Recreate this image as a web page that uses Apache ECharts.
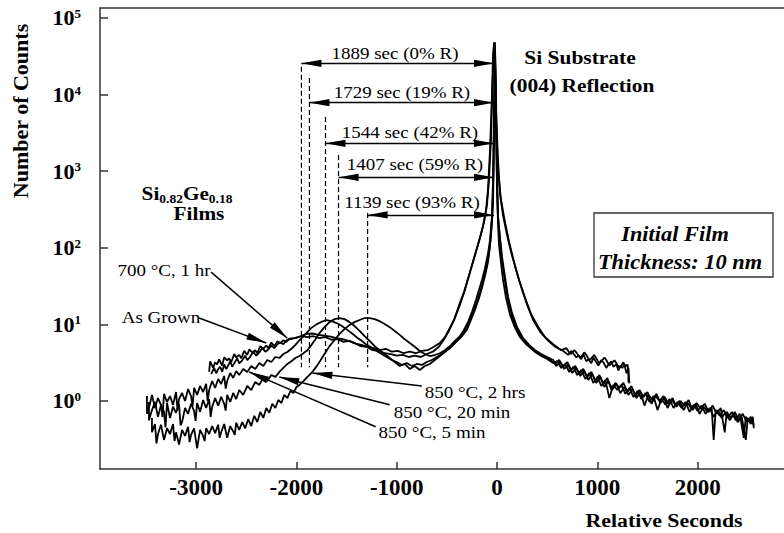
<!DOCTYPE html>
<html><head><meta charset="utf-8">
<script src="https://cdn.jsdelivr.net/npm/echarts@6/dist/echarts.min.js"></script>
<style>html,body{margin:0;padding:0;background:#fff}#c{width:784px;height:533px}</style>
</head><body><div id="c"></div>
<script>
// ---------------- data ----------------
const xTicks = [-3000, -2000, -1000, 0, 1000, 2000];
const yTicks = [1, 10, 100, 1000, 10000, 100000];

const asGrown = [[-2870,2.4],[-2860,3.3],[-2830,2.7],[-2810,3.2],[-2790,3.0],[-2770,3.5],[-2740,2.9],[-2720,3.7],[-2690,3.4],[-2670,3.6],[-2650,3.2],[-2620,4.1],[-2600,3.7],[-2570,4.0],[-2550,3.6],[-2520,4.5],[-2490,4.0],[-2470,4.7],[-2440,4.3],[-2410,4.6],[-2390,4.2],[-2360,5.2],[-2330,4.8],[-2300,5.3],[-2280,4.9],[-2250,5.8],[-2220,5.2],[-2190,6.0],[-2160,5.7],[-2130,6.2],[-2100,5.9],[-2070,6.5],[-2010,6.6],[-1950,7.0],[-1890,6.8],[-1830,7.0],[-1770,6.6],[-1710,6.8],[-1650,6.3],[-1590,6.4],[-1530,5.9],[-1470,6.1],[-1410,5.6],[-1350,5.4],[-1290,5.1],[-1230,4.9],[-1170,4.6],[-1110,4.8],[-1050,4.4],[-990,4.5],[-930,4.2],[-870,4.4],[-810,4.2],[-750,4.5],[-690,4.6],[-630,5.1],[-570,5.7],[-520,6.8],[-470,9.0],[-420,12],[-370,18],[-320,28],[-270,48],[-220,80],[-170,134],[-130,215],[-100,360],[-80,770],[-60,2600],[-50,8500],[-40,21000],[-30,48000],[-20,28000],[-10,6300],[10,1400],[30,500],[60,265],[100,147],[140,88],[190,51],[240,31],[300,18],[360,11.4],[430,8.0],[500,6.3],[580,5.1],[660,4.5],[710,4.0],[740,4.5],[760,4.2],[790,3.7],[810,3.9],[840,3.5],[860,4.1],[890,3.3],[910,3.5],[940,3.1],[960,3.7],[990,3.2],[1010,2.9],[1040,3.4],[1060,3.2],[1090,2.7],[1110,3.0],[1140,3.3],[1160,2.8],[1190,3.0],[1210,2.5],[1230,2.9],[1250,2.7],[1270,3.0],[1290,2.3],[1310,2.7],[1310,1.75]];

const anneal700 = [[-2850,2.25],[-2820,2.7],[-2800,2.3],[-2780,2.6],[-2760,2.8],[-2740,2.4],[-2720,3.0],[-2700,2.6],[-2680,2.9],[-2660,3.3],[-2640,2.8],[-2620,3.1],[-2590,3.6],[-2570,3.1],[-2540,3.4],[-2510,3.9],[-2490,3.4],[-2460,3.8],[-2430,4.4],[-2400,3.9],[-2370,4.3],[-2340,4.9],[-2310,4.4],[-2280,4.7],[-2250,5.3],[-2220,4.9],[-2190,5.5],[-2160,5.8],[-2130,5.5],[-2100,6.2],[-2080,6.3],[-2020,6.6],[-1960,7.0],[-1900,7.5],[-1840,7.6],[-1780,7.3],[-1720,7.1],[-1660,6.9],[-1600,6.6],[-1540,6.4],[-1480,6.1],[-1420,5.7],[-1360,5.2],[-1300,5.1],[-1240,4.6],[-1180,4.5],[-1120,4.2],[-1060,4.1],[-1000,3.9],[-940,4.0],[-880,3.75],[-820,3.9],[-760,3.75],[-700,4.1],[-640,4.4],[-580,5.1],[-530,6.3],[-480,8.2],[-430,11.4],[-380,17.5],[-330,26.5],[-280,43],[-230,73],[-180,122],[-140,190],[-110,310],[-90,570],[-70,1900],[-50,10000],[-40,33000],[-30,45000],[-20,18000],[-10,4000],[10,1030],[40,420],[80,215],[120,120],[170,65],[220,38],[280,22],[340,13.6],[410,9.3],[480,6.8],[560,5.5],[640,4.6],[690,4.9],[720,4.3],[740,4.1],[770,4.6],[790,4.3],[820,3.8],[840,3.75],[870,4.3],[890,4.0],[920,3.4],[940,3.6],[970,4.0],[990,3.6],[1020,3.1],[1040,3.3],[1070,3.7],[1090,3.4],[1120,2.9],[1140,3.1],[1170,3.4],[1190,3.1],[1220,2.7],[1240,2.9],[1260,3.2],[1280,2.8],[1300,3.0],[1310,2.5],[1320,1.7]];

const anneal850m5 = [[-3490,1.16],[-3490,0.68],[-3460,0.92],[-3440,1.2],[-3410,0.81],[-3380,1.09],[-3350,0.89],[-3335,0.62],[-3320,1.24],[-3290,0.97],[-3260,1.16],[-3230,0.89],[-3200,1.31],[-3185,0.75],[-3170,1.06],[-3140,1.27],[-3110,1.0],[-3080,1.43],[-3050,1.16],[-3035,0.85],[-3020,1.48],[-2990,1.2],[-2960,1.57],[-2930,1.31],[-2900,1.67],[-2885,1.0],[-2870,1.39],[-2840,1.82],[-2810,1.48],[-2780,1.94],[-2750,1.67],[-2720,2.12],[-2705,1.45],[-2690,1.82],[-2660,2.32],[-2630,2.0],[-2600,2.46],[-2570,2.18],[-2530,2.62],[-2490,2.39],[-2450,2.86],[-2410,2.62],[-2370,3.13],[-2330,2.86],[-2290,3.43],[-2250,3.23],[-2210,3.75],[-2170,3.64],[-2130,4.1],[-2090,4.36],[-2050,4.8],[-2010,5.4],[-1970,6.2],[-1930,7.0],[-1890,8.0],[-1850,9.0],[-1800,10.0],[-1750,10.8],[-1700,11.4],[-1650,11.0],[-1600,10.4],[-1550,9.6],[-1500,8.6],[-1450,7.7],[-1400,6.8],[-1350,6.1],[-1300,5.4],[-1250,5.0],[-1200,4.5],[-1150,4.1],[-1100,3.75],[-1050,3.43],[-1000,3.23],[-950,2.95],[-900,3.13],[-850,2.86],[-800,3.04],[-750,2.95],[-700,3.23],[-650,3.43],[-600,3.75],[-550,4.1],[-500,4.6],[-450,5.2],[-400,6.1],[-350,7.0],[-300,8.5],[-260,11.4],[-220,15.4],[-180,22],[-150,30],[-120,43],[-90,65],[-70,108],[-50,230],[-40,570],[-30,3500],[-20,40000],[-10,6300],[0,570],[10,199],[20,108],[40,63],[60,38],[90,22],[130,13.3],[180,9.0],[230,6.8],[290,5.5],[350,4.8],[410,4.2],[470,3.75],[530,3.43],[580,3.04],[620,3.43],[660,2.78],[700,3.23],[740,2.54],[780,2.86],[820,2.25],[860,2.62],[900,2.06],[940,2.39],[980,1.82],[1020,2.18],[1060,1.67],[1100,2.0],[1140,1.39],[1180,1.72],[1220,1.48],[1260,1.72],[1300,1.31],[1340,1.57],[1380,1.16],[1420,1.39],[1460,1.13],[1500,1.31],[1540,0.92],[1580,1.16],[1620,1.0],[1660,1.16],[1700,0.81],[1740,1.03],[1780,0.89],[1820,1.0],[1860,0.76],[1900,0.94],[1940,0.79],[1980,0.92],[2020,0.68],[2060,0.84],[2100,0.72],[2140,0.81],[2160,0.31],[2180,0.76],[2220,0.64],[2260,0.76],[2300,0.60],[2340,0.72],[2380,0.56],[2420,0.68],[2460,0.33],[2480,0.62],[2520,0.53],[2550,0.62],[2560,0.44]];

const anneal850m20 = [[-3470,0.97],[-3470,0.56],[-3440,0.76],[-3410,0.97],[-3380,0.62],[-3350,0.89],[-3320,0.72],[-3305,0.45],[-3290,0.94],[-3260,0.60],[-3230,0.84],[-3200,0.70],[-3170,0.92],[-3155,0.48],[-3140,0.53],[-3110,0.81],[-3080,0.68],[-3050,0.92],[-3020,0.74],[-3005,0.55],[-2990,0.94],[-2960,0.72],[-2930,1.03],[-2900,0.81],[-2870,1.06],[-2855,0.62],[-2840,0.84],[-2810,1.09],[-2780,0.87],[-2750,1.13],[-2720,0.92],[-2705,0.75],[-2690,1.2],[-2660,0.97],[-2630,1.27],[-2600,1.06],[-2570,1.39],[-2530,1.2],[-2490,1.57],[-2450,1.39],[-2410,1.77],[-2370,1.62],[-2330,2.0],[-2290,1.82],[-2250,2.18],[-2210,2.06],[-2170,2.39],[-2130,2.7],[-2090,3.04],[-2050,3.3],[-2010,3.64],[-1970,3.86],[-1930,4.2],[-1890,4.6],[-1850,5.4],[-1810,6.4],[-1770,7.7],[-1720,9.2],[-1670,10.7],[-1620,11.7],[-1570,12.1],[-1520,11.7],[-1470,10.7],[-1420,9.5],[-1370,8.2],[-1320,7.0],[-1270,6.1],[-1220,5.2],[-1170,4.6],[-1120,4.1],[-1070,3.64],[-1020,3.23],[-970,2.86],[-920,3.04],[-870,2.62],[-820,2.86],[-770,2.54],[-720,2.86],[-670,3.04],[-620,3.43],[-570,3.86],[-520,4.36],[-470,4.9],[-420,5.7],[-370,6.6],[-320,8.45],[-280,10.7],[-240,14.5],[-200,19.6],[-170,25.7],[-140,36],[-110,51],[-80,84],[-60,142],[-40,362],[-30,1900],[-20,36000],[-10,10000],[0,1030],[10,265],[30,126],[50,69],[80,36],[110,20.8],[150,12.5],[200,8.45],[260,6.26],[320,5.1],[380,4.36],[440,3.86],[500,3.54],[560,3.13],[600,3.33],[640,2.7],[680,3.04],[720,2.39],[760,2.78],[800,2.18],[840,2.54],[880,1.94],[920,2.32],[960,1.72],[1000,2.06],[1040,1.57],[1080,1.88],[1120,1.09],[1160,1.62],[1200,1.39],[1240,1.62],[1280,1.24],[1320,1.48],[1360,1.13],[1400,1.35],[1440,1.06],[1480,1.27],[1520,0.97],[1560,1.16],[1600,0.76],[1640,1.06],[1680,0.89],[1720,1.06],[1760,0.81],[1800,0.97],[1840,0.81],[1880,0.97],[1920,0.72],[1960,0.89],[2000,0.74],[2040,0.87],[2080,0.68],[2120,0.81],[2160,0.62],[2200,0.76],[2240,0.60],[2280,0.72],[2320,0.56],[2360,0.68],[2400,0.53],[2440,0.62],[2480,0.31],[2500,0.60],[2530,0.50],[2550,0.58]];

const anneal850h2 = [[-3440,0.60],[-3440,0.39],[-3410,0.50],[-3395,0.28],[-3380,0.37],[-3350,0.49],[-3320,0.31],[-3290,0.44],[-3260,0.37],[-3230,0.50],[-3215,0.30],[-3200,0.39],[-3170,0.27],[-3140,0.42],[-3110,0.35],[-3080,0.46],[-3065,0.29],[-3050,0.36],[-3020,0.44],[-2990,0.24],[-2960,0.42],[-2930,0.35],[-2915,0.30],[-2900,0.44],[-2870,0.37],[-2840,0.47],[-2810,0.38],[-2780,0.49],[-2765,0.33],[-2750,0.39],[-2720,0.50],[-2690,0.33],[-2660,0.47],[-2630,0.40],[-2615,0.36],[-2600,0.52],[-2570,0.42],[-2540,0.53],[-2510,0.44],[-2480,0.58],[-2450,0.47],[-2420,0.64],[-2390,0.53],[-2360,0.72],[-2330,0.60],[-2300,0.81],[-2270,0.70],[-2240,0.92],[-2210,0.81],[-2180,1.03],[-2150,0.94],[-2120,1.2],[-2090,1.09],[-2060,1.35],[-2030,1.27],[-2000,1.52],[-1970,1.62],[-1930,1.82],[-1890,2.06],[-1850,2.32],[-1810,2.7],[-1770,3.23],[-1720,4.1],[-1670,5.2],[-1620,6.26],[-1570,7.5],[-1520,8.7],[-1470,9.8],[-1420,10.7],[-1370,11.4],[-1320,12.1],[-1270,12.1],[-1220,11.7],[-1170,11.0],[-1120,10.1],[-1070,9.2],[-1020,8.2],[-970,7.3],[-920,6.4],[-870,5.7],[-820,5.1],[-770,4.5],[-720,4.1],[-670,3.86],[-620,3.98],[-570,4.2],[-520,4.6],[-470,5.2],[-420,6.1],[-370,7.0],[-330,8.45],[-290,10.7],[-250,14.5],[-210,20.8],[-180,28],[-150,38],[-120,54],[-90,84],[-70,126],[-50,265],[-40,770],[-30,6300],[-20,48000],[-10,4700],[0,660],[10,245],[30,134],[50,76],[80,41],[110,23],[150,14],[200,9.2],[260,6.6],[320,5.4],[380,4.6],[440,4.1],[500,3.75],[560,3.43],[590,2.86],[630,3.23],[670,2.62],[710,2.95],[750,2.32],[790,2.7],[830,2.12],[870,2.46],[910,1.88],[950,2.25],[990,1.72],[1030,2.06],[1070,1.52],[1110,1.82],[1150,1.43],[1190,1.67],[1230,1.27],[1270,1.52],[1310,1.2],[1350,1.43],[1390,1.09],[1430,1.31],[1470,0.87],[1510,1.2],[1550,1.03],[1590,1.24],[1630,0.94],[1670,1.13],[1710,0.92],[1750,1.09],[1790,0.84],[1830,1.0],[1870,0.87],[1910,1.03],[1950,0.76],[1990,0.94],[2030,0.79],[2070,0.92],[2110,0.72],[2150,0.87],[2190,0.68],[2230,0.81],[2270,0.39],[2290,0.72],[2330,0.60],[2370,0.72],[2410,0.56],[2450,0.68],[2490,0.53],[2530,0.62],[2560,0.48]];

// peak-shift annotations
const substratePeakX = -30;
const shiftLabels = ['1889 sec (0% R)', '1729 sec (19% R)', '1544 sec (42% R)', '1407 sec (59% R)', '1139 sec (93% R)'];
const shiftX = [-1950, -1870, -1710, -1580, -1290];
const shiftArrowY = [25600, 7840, 2310, 830, 268];
const shiftDashTop = [23000, 16500, 5100, 1630, 285];
const shiftDashBottom = 2.75;

// curve leader annotations
const leaderNames = ['700 °C, 1 hr', 'As Grown', '850 °C, 2 hrs', '850 °C, 20 min', '850 °C, 5 min'];
const leaderFrom = [[-2850, 48], [-2970, 12.1], [-750, 1.57], [-1070, 0.89], [-1210, 0.46]];
const leaderTo = [[-2090, 6.6], [-2300, 5.7], [-1840, 2.32], [-2170, 2.06], [-2470, 2.39]];

// ---------------- chart ----------------
const FONT = 'Liberation Serif';
const arrowHead = 'path://M0,0L3.6,20L-3.6,20ZM-20,-20L-20,-20M20,20L20,20';
const chart = echarts.init(document.getElementById('c'), null, {renderer: 'svg'});

function curve(name, data) {
  return {name, type: 'line', data, showSymbol: false, symbol: 'none',
    lineStyle: {color: '#000', width: 1.8}, itemStyle: {color: '#000'}, silent: true, z: 3};
}

const series = [
  curve('As Grown', asGrown),
  curve('700 °C, 1 hr', anneal700),
  curve('850 °C, 5 min', anneal850m5),
  curve('850 °C, 20 min', anneal850m20),
  curve('850 °C, 2 hrs', anneal850h2)
];

shiftX.forEach((x, i) => {
  series.push({type: 'line', data: [[x, shiftDashTop[i]], [x, shiftDashBottom]], showSymbol: false, symbol: 'none',
    lineStyle: {color: '#000', width: 1.2, type: [5, 3]}, silent: true, z: 2});
});

series[0].markLine = {
  silent: true, animation: false, symbol: [arrowHead, arrowHead], symbolSize: 40,
  label: {show: false}, lineStyle: {color: '#000', width: 1.3, type: 'solid'},
  emphasis: {disabled: true},
  data: shiftX.map((x, i) => [{coord: [x, shiftArrowY[i]]}, {coord: [substratePeakX, shiftArrowY[i]]}])
};
series[1].markLine = {
  silent: true, animation: false, symbol: ['none', arrowHead], symbolSize: 40,
  label: {show: false}, lineStyle: {color: '#000', width: 1.5, type: 'solid'},
  emphasis: {disabled: true},
  data: leaderFrom.map((f, i) => [{coord: f}, {coord: leaderTo[i]}])
};

function txt(text, x, y, size, opts) {
  opts = opts || {};
  return {type: 'text', x, y, rotation: opts.rotation || 0, scaleX: opts.scaleX || 1, silent: true, z: 10,
    style: {text, fontFamily: FONT, fontSize: size, fontWeight: opts.bold ? 'bold' : 'normal',
      fontStyle: opts.italic ? 'italic' : 'normal', fill: '#000',
      align: 'center', verticalAlign: 'middle', textAlign: 'center', textVerticalAlign: 'middle', rich: opts.rich}};
}

const shiftLabelPos = [[395, 53], [402, 92], [410, 132], [415, 164], [412, 202]];
const leaderLabelPos = [[164, 270], [161, 317], [475, 392], [452, 412], [432, 432]];

const graphic = [
  txt('Number of Counts', 20, 111, 22, {bold: true, rotation: Math.PI / 2}),
  txt('Relative Seconds', 664, 521, 19, {bold: true, scaleX: 1.15}),
  txt('Si Substrate', 580, 57, 19, {bold: true, scaleX: 1.13}),
  txt('(004) Reflection', 582, 85, 19, {bold: true, scaleX: 1.13}),
  txt('{m|Si}{s|0.82}{m|Ge}{s|0.18}', 187, 193, 19, {scaleX: 1.12, rich: {
    m: {fontFamily: FONT, fontSize: 19, fontWeight: 'bold', fill: '#000', lineHeight: 24},
    s: {fontFamily: FONT, fontSize: 12, fontWeight: 'bold', fill: '#000', verticalAlign: 'bottom', lineHeight: 14}}}),
  txt('Films', 199, 213, 19, {bold: true, scaleX: 1.12}),
  {type: 'rect', shape: {x: 594, y: 213, width: 179, height: 64}, silent: true, z: 9,
    style: {fill: 'none', stroke: '#333', lineWidth: 1.3}},
  txt('Initial Film', 675, 234, 20, {bold: true, italic: true, scaleX: 1.12}),
  txt('Thickness: 10 nm', 680, 262, 20, {bold: true, italic: true, scaleX: 1.12})
];
shiftLabels.forEach((t, i) => graphic.push(txt(t, shiftLabelPos[i][0], shiftLabelPos[i][1], 16.5, {scaleX: 1.15})));
leaderNames.forEach((t, i) => graphic.push(txt(t, leaderLabelPos[i][0], leaderLabelPos[i][1], 17, {scaleX: 1.12})));

const axisLineStyle = {color: '#333', width: 1.5};
chart.setOption({
  animation: false,
  backgroundColor: '#fff',
  grid: {left: 100, right: 0, top: 8, bottom: 64, containLabel: false},
  xAxis: [{
    type: 'value', min: -3958, max: 2861, position: 'bottom',
    axisLine: {show: true, onZero: false, lineStyle: axisLineStyle},
    axisTick: {show: true, inside: true, length: 7, lineStyle: axisLineStyle, customValues: xTicks},
    axisLabel: {show: true, margin: 7, customValues: xTicks, formatter: v => String(v),
      fontFamily: FONT, fontWeight: 'bold', fontSize: 23, color: '#000'},
    splitLine: {show: false}
  }, {
    type: 'value', min: -3958, max: 2861, position: 'top',
    axisLine: {show: true, onZero: false, lineStyle: axisLineStyle},
    axisTick: {show: false}, axisLabel: {show: false}, splitLine: {show: false}
  }],
  yAxis: {
    type: 'log', logBase: 10, min: 0.1294, max: 134900,
    axisLine: {show: true, onZero: false, lineStyle: axisLineStyle},
    axisTick: {show: true, inside: true, length: 8, lineStyle: axisLineStyle, customValues: yTicks},
    minorTick: {show: false},
    axisLabel: {show: true, margin: 19, customValues: yTicks,
      formatter: function (v) {
        const l = Math.log10(v); const e = Math.round(l);
        if (Math.abs(l - e) > 0.01) return '';
        return '{b|10}{s|' + e + '}';
      },
      rich: {
        b: {fontFamily: FONT, fontWeight: 'bold', fontSize: 22, color: '#000', lineHeight: 22},
        s: {fontFamily: FONT, fontWeight: 'bold', fontSize: 13, color: '#000', verticalAlign: 'top', lineHeight: 14}
      }},
    splitLine: {show: false}
  },
  graphic,
  series
});
</script>
</body></html>
